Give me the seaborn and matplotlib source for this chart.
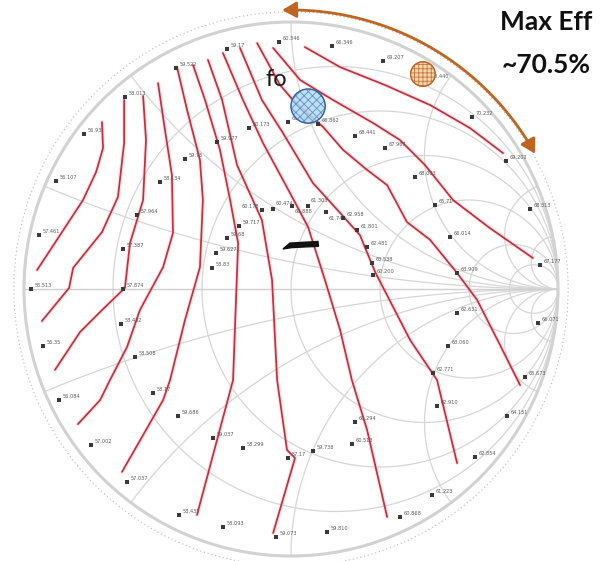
import numpy as np
import pandas as pd
import matplotlib
matplotlib.use("Agg")
import matplotlib.pyplot as plt
from matplotlib.patches import Circle, FancyArrowPatch, Polygon
from matplotlib.path import Path
import seaborn as sns

# ---- measured load-pull points (reflection coefficient) and drain efficiency (%) ----
point_re = [-0.045, 0.154, 0.345, 0.513, 0.678, 0.805, -0.240, -0.431, -0.622, -0.775,
            -0.880, -0.157, -0.277, -0.397, -0.491, -0.011, 0.101, 0.240, 0.352, 0.464,
            0.895, 0.539, 0.595, 0.622, 0.933, 0.622, 0.588, 0.532, 0.925, 0.876,
            -0.109, -0.067, 0.004, 0.064, 0.131, 0.195, 0.247, 0.285, 0.303, 0.307,
            -0.195, -0.240, -0.281, -0.296, -0.944, -0.974, -0.929, -0.577, -0.629, -0.629,
            -0.637, -0.584, -0.869, -0.749, -0.614, -0.517, -0.423, -0.292, -0.180, -0.419,
            -0.255, -0.056, -0.011, 0.240, 0.228, 0.082, 0.547, 0.809, 0.689, 0.528,
            0.408, 0.135]
point_im = [0.925, 0.910, 0.854, 0.783, 0.644, 0.479, 0.899, 0.828, 0.719, 0.580,
            0.404, 0.603, 0.551, 0.487, 0.401, 0.625, 0.618, 0.573, 0.528, 0.419,
            0.300, 0.315, 0.195, 0.060, 0.090, -0.090, -0.213, -0.315, -0.127, -0.330,
            0.296, 0.300, 0.311, 0.311, 0.288, 0.266, 0.221, 0.157, 0.097, 0.052,
            0.236, 0.191, 0.135, 0.079, 0.202, 0.000, -0.213, 0.277, 0.150, 0.000,
            -0.131, -0.255, -0.416, -0.584, -0.723, -0.389, -0.476, -0.558, -0.595, -0.846,
            -0.891, -0.929, -0.633, -0.498, -0.580, -0.607, -0.438, -0.476, -0.629, -0.772,
            -0.854, -0.910]
point_label = ["60.346", "66.346", "69.207", "70.440", "70.232", "69.202", "59.17", "59.522",
               "58.013", "56.93", "56.107", "60.173", "59.977", "59.75", "58.134", "63.905",
               "66.862", "68.441", "67.967", "68.003", "68.513", "65.71", "66.014", "63.909",
               "67.177", "62.631", "63.060", "62.771", "66.071", "65.673", "60.178", "60.474",
               "60.888", "61.303", "61.74", "62.958", "61.801", "62.481", "63.538", "60.200",
               "59.717", "59.68", "59.627", "58.83", "57.461", "55.513", "56.35", "57.964",
               "57.387", "57.874", "58.432", "58.508", "56.084", "57.002", "57.037", "58.17",
               "59.686", "59.037", "58.299", "58.431", "58.093", "59.073", "57.17", "60.294",
               "60.513", "59.738", "62.910", "64.151", "62.854", "61.223", "60.868", "59.810"]

# ---- efficiency contours in the Gamma plane (re, im) ----
contour_01 = [(-0.708, 0.625), (-0.704, 0.528), (-0.730, 0.438), (-0.779, 0.333),
              (-0.865, 0.202), (-0.951, 0.071)]
contour_02 = [(-0.625, 0.708), (-0.625, 0.547), (-0.648, 0.345), (-0.708, 0.213),
              (-0.816, 0.079), (-0.831, 0.004), (-0.933, -0.120)]
contour_03 = [(-0.554, 0.723), (-0.543, 0.558), (-0.554, 0.333), (-0.603, 0.172),
              (-0.622, 0.004), (-0.708, -0.079), (-0.790, -0.161), (-0.884, -0.303)]
contour_04 = [(-0.498, 0.771), (-0.472, 0.595), (-0.446, 0.427), (-0.442, 0.210),
              (-0.479, 0.082), (-0.566, -0.079), (-0.614, -0.217), (-0.678, -0.341),
              (-0.715, -0.416), (-0.798, -0.506)]
contour_05 = [(-0.427, 0.831), (-0.389, 0.670), (-0.341, 0.483), (-0.330, 0.333),
              (-0.341, 0.082), (-0.397, -0.116), (-0.453, -0.341), (-0.479, -0.416),
              (-0.633, -0.685)]
contour_06 = [(-0.367, 0.839), (-0.322, 0.708), (-0.266, 0.521), (-0.228, 0.333),
              (-0.198, 0.172), (-0.206, -0.041), (-0.217, -0.341), (-0.352, -0.846)]
contour_07 = [(-0.311, 0.858), (-0.258, 0.708), (-0.202, 0.464), (-0.109, 0.258),
              (-0.071, 0.034), (-0.052, -0.341), (-0.015, -0.603), (0.015, -0.633),
              (-0.067, -0.914)]
contour_08 = [(-0.255, 0.884), (-0.180, 0.708), (-0.105, 0.547), (-0.004, 0.360),
              (0.064, 0.232), (0.127, 0.034), (0.184, -0.154), (0.228, -0.341),
              (0.285, -0.528), (0.360, -0.854)]
contour_09 = [(-0.191, 0.903), (-0.109, 0.708), (-0.030, 0.584), (0.082, 0.397),
              (0.184, 0.285), (0.258, 0.202), (0.315, 0.064), (0.446, -0.191),
              (0.547, -0.341), (0.622, -0.652)]
contour_10 = [(-0.127, 0.921), (-0.041, 0.764), (0.007, 0.708), (0.120, 0.607),
              (0.195, 0.521), (0.285, 0.446), (0.360, 0.389), (0.434, 0.251),
              (0.521, 0.184), (0.622, 0.060), (0.697, -0.041), (0.783, -0.210),
              (0.858, -0.360)]
contour_11 = [(-0.067, 0.903), (0.034, 0.783), (0.157, 0.708), (0.307, 0.622),
              (0.408, 0.558), (0.502, 0.464), (0.607, 0.333), (0.745, 0.228),
              (0.906, 0.116)]
contour_12 = [(0.052, 0.906), (0.184, 0.831), (0.352, 0.764), (0.521, 0.689),
              (0.670, 0.603), (0.794, 0.509)]
contours = [contour_01, contour_02, contour_03, contour_04, contour_05, contour_06,
            contour_07, contour_08, contour_09, contour_10, contour_11, contour_12]

# fundamental-match region and peak-efficiency region
fo_center, fo_radius = (0.064, 0.685), 0.064
peak_center, peak_radius = (0.494, 0.805), 0.046
fo_text = "fo"
peak_text = ["Max Eff", "~70.5%"]

# Smith chart grid values
r_values = [0.2, 0.5, 1.0, 2.0, 5.0, 10.0]
x_values = [0.2, 0.5, 1.0, 2.0, 5.0, 10.0]

sns.set_theme(style="white")
plt.rcParams["font.family"] = ["DejaVu Sans"]
plt.rcParams["hatch.linewidth"] = 0.6

W, H = 603, 561
R_PX, CX, CY = 267.0, 291.0, 289.0
fig = plt.figure(figsize=(W / 100, H / 100), dpi=100)
ax = fig.add_axes([0, 0, 1, 1])
ax.set_xlim(-CX / R_PX, (W - CX) / R_PX)
ax.set_ylim(-(H - CY) / R_PX, CY / R_PX)
ax.axis("off")

grid_color = "#d6d6d6"


def z_to_gamma(z):
    return (z - 1) / (z + 1)


t = np.linspace(-np.pi / 2 + 1e-4, np.pi / 2 - 1e-4, 800)
for r in r_values:
    g = z_to_gamma(r + 1j * np.tan(t))
    ax.plot(g.real, g.imag, color=grid_color, lw=0.9, zorder=1)
s = np.linspace(0, np.pi / 2 - 1e-4, 800)
for x in x_values:
    for sgn in (1, -1):
        g = z_to_gamma(np.tan(s) + 1j * sgn * x)
        ax.plot(g.real, g.imag, color=grid_color, lw=0.9, zorder=1)
ax.plot([-1, 1], [0, 0], color="#cfcfcf", lw=1.0, zorder=1)
ax.add_patch(Circle((0, 0), 1.0, fill=False, ec="#d2d2d2", lw=2.2, zorder=1))
ax.add_patch(Circle((0, 0), 1.038, fill=False, ec="#b8b8b8", lw=0.8,
                    ls=(0, (1, 2.5)), zorder=1))

# efficiency contours
rows = []
for k, c in enumerate(contours):
    for i, (re, im) in enumerate(c):
        rows.append({"contour": k, "order": i, "re": re, "im": im})
cdf = pd.DataFrame(rows)
sns.lineplot(data=cdf, x="re", y="im", units="contour", estimator=None, sort=False,
             color="#f4b6bf", lw=3.0, alpha=0.35, ax=ax, zorder=2, legend=False)
sns.lineplot(data=cdf, x="re", y="im", units="contour", estimator=None, sort=False,
             color="#c2303e", lw=1.25, ax=ax, zorder=3, legend=False)

# measured points and their labels
pdf = pd.DataFrame({"re": point_re, "im": point_im, "label": point_label})
sns.scatterplot(data=pdf, x="re", y="im", marker="s", s=7, color="#3a3a3a",
                edgecolor="none", ax=ax, zorder=4, legend=False)
label_nudge = {30: (-2.0, 1.5, "right"), 31: (2.0, 2.5, "left"), 32: (2.0, -5.0, "left"),
               33: (2.0, 2.5, "left"), 34: (2.0, -5.5, "left")}
for i, (re, im, lab) in enumerate(zip(point_re, point_im, point_label)):
    dx, dy, ha = label_nudge.get(i, (2.5, 1.5, "left"))
    ax.annotate(lab, (re, im), xytext=(dx, dy), textcoords="offset points",
                fontsize=3.6, color="#5a5a5a", ha=ha, zorder=4)

# black reference marker near the chart centre
ax.add_patch(Polygon([(-0.030, 0.150), (-0.004, 0.172), (0.101, 0.178), (0.103, 0.160),
                      (0.002, 0.155)], closed=True, fc="#111111", ec="#111111", lw=1.0,
                     zorder=5))

# highlighted regions
ax.add_patch(Circle(fo_center, fo_radius, fc="#b4daf2", ec="#4a84c2", lw=0.6,
                    hatch="xxxx", alpha=0.85, zorder=5))
ax.add_patch(Circle(fo_center, fo_radius, fill=False, ec="#34659f", lw=1.0, zorder=5))
ax.add_patch(Circle(peak_center, peak_radius, fc="#f7d4ac", ec="#c47a3a", lw=0.6,
                    hatch="++++", zorder=5))
ax.add_patch(Circle(peak_center, peak_radius, fill=False, ec="#b8662a", lw=1.0, zorder=5))

# sweep arrow along the rim toward the peak-efficiency region
theta = np.deg2rad(np.linspace(91.8, 29.0, 120))
arc = np.column_stack([1.045 * np.cos(theta), 1.045 * np.sin(theta)])
ax.add_patch(FancyArrowPatch(path=Path(arc), arrowstyle="<|-|>,head_length=0.7,head_width=0.4",
                             mutation_scale=12, color="#bf6520", lw=2.0, zorder=6))

fig.text(276 / W, 1 - 80 / H, fo_text, fontsize=17, color="#1a1a1a",
         ha="center", va="center", family=["Lato", "DejaVu Sans"])
fig.text(546 / W, 1 - 22 / H, peak_text[0], fontsize=19, fontweight="bold",
         ha="center", va="center", family=["Lato", "DejaVu Sans"], color="#111111")
fig.text(546 / W, 1 - 65 / H, peak_text[1], fontsize=19, fontweight="bold",
         ha="center", va="center", family=["Lato", "DejaVu Sans"], color="#111111")

fig.savefig("out.png", dpi=100, facecolor="white")
